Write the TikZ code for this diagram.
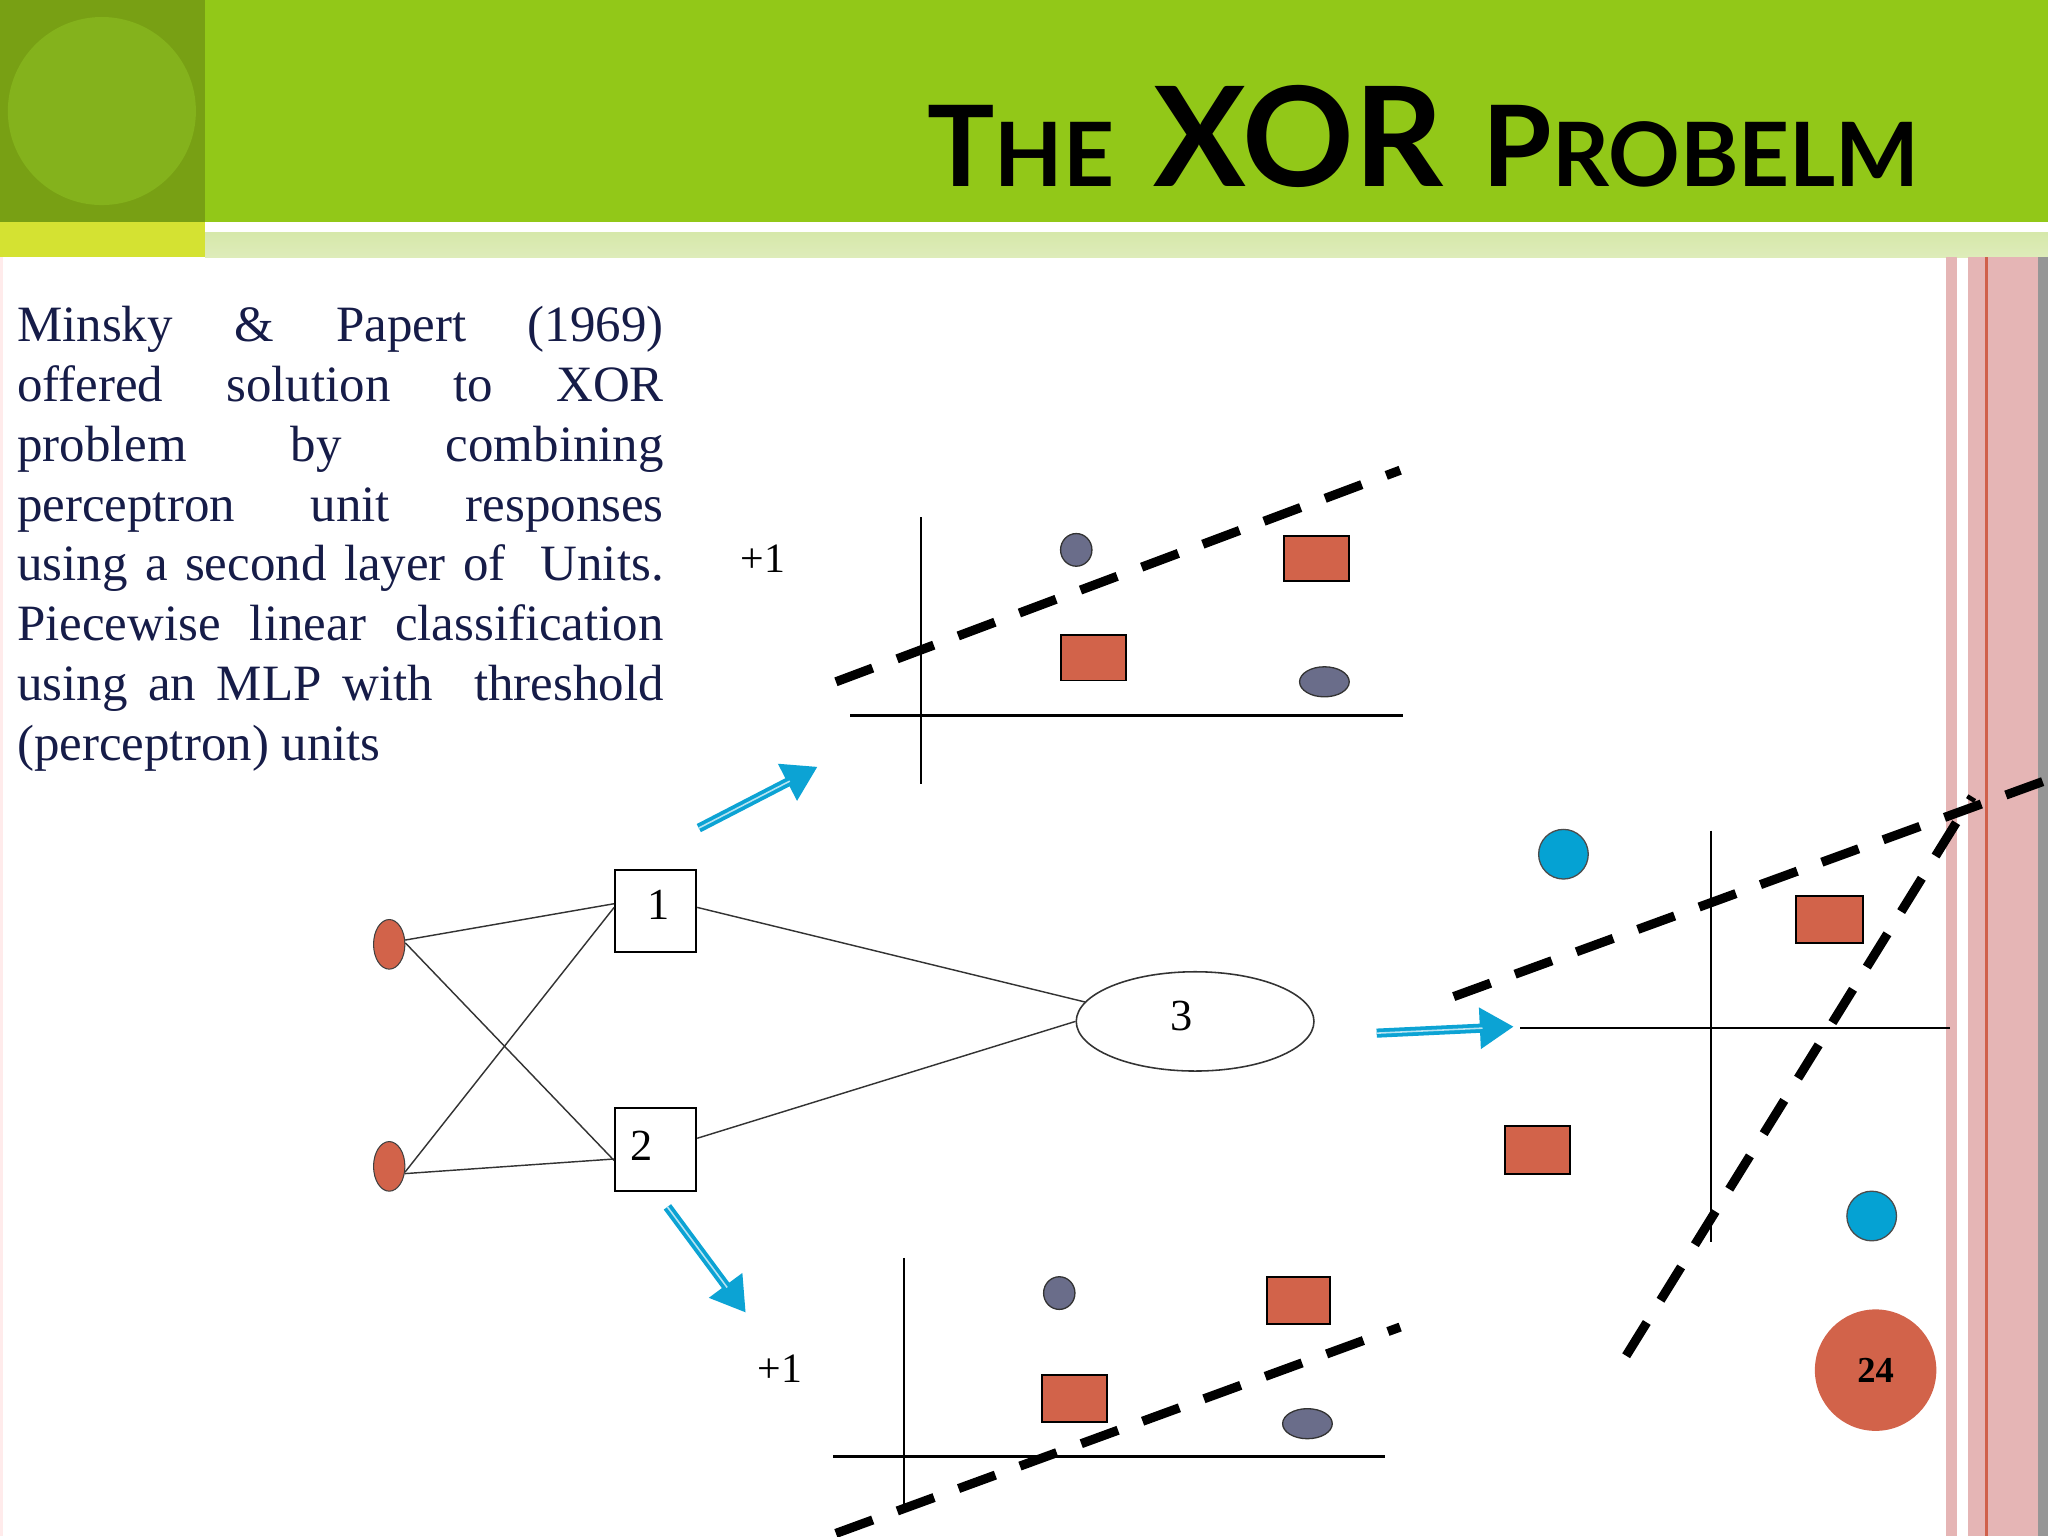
\documentclass[tikz,border=0pt]{standalone}
\usepackage{fontspec}
\setmainfont{Liberation Serif}
\newfontfamily\titlefont{Lato}
\usetikzlibrary{arrows.meta,shapes.geometric}
\definecolor{hdrgreen}{RGB}{146,200,24}
\definecolor{hdrdark}{RGB}{120,160,20}
\definecolor{hdrcirc}{RGB}{132,178,28}
\definecolor{hdryel}{RGB}{212,226,50}
\definecolor{hdrlight}{RGB}{214,232,170}
\definecolor{hdrlight2}{RGB}{222,236,186}
\definecolor{stripepink}{RGB}{229,181,181}
\definecolor{stripered}{RGB}{208,96,74}
\definecolor{stripegray}{RGB}{150,150,150}
\definecolor{txtnavy}{RGB}{22,28,72}
\definecolor{ptorange}{RGB}{210,99,74}
\definecolor{ptgray}{RGB}{106,109,138}
\definecolor{ptblue}{RGB}{5,162,211}
\definecolor{arrblue}{RGB}{12,163,212}
\tikzset{
  bodyline/.style={anchor=base west, inner sep=0pt, text=txtnavy, font=\fontsize{39}{45.8}\selectfont},
  inp/.style={ellipse, draw=black!75, line width=0.8pt, fill=ptorange, minimum width=24pt, minimum height=38pt, inner sep=0pt},
  hid/.style={rectangle, draw=black, line width=1.6pt, fill=white, minimum width=62pt, minimum height=63pt, inner sep=0pt},
  outn/.style={ellipse, draw=black!80, line width=1.2pt, minimum width=182pt, minimum height=76pt, inner sep=0pt},
  numlbl/.style={inner sep=0pt, font=\fontsize{34}{34}\selectfont},
  wire/.style={draw=black!80, line width=1.1pt},
  axis/.style={draw=black, line width=2pt},
  sep/.style={draw=black, line width=7pt, dash pattern=on 30pt off 20pt},
  gdot/.style={ellipse, draw=black!80, line width=1pt, fill=ptgray, inner sep=0pt},
  bdot/.style={circle, draw=black!70, line width=1pt, fill=ptblue, minimum size=38pt, inner sep=0pt},
  osq/.style={rectangle, draw=black, line width=1.5pt, fill=ptorange, inner sep=0pt},
  barrow/.style={draw=arrblue, line width=7pt, -{Triangle[length=26pt,width=30pt]}},
  bstripe/.style={draw=white!70!arrblue, line width=1.2pt},
}
\begin{document}
\begin{tikzpicture}[x=1pt,y=-1pt]
\useasboundingbox (0,0) rectangle (1568,1176);
\fill[white] (0,0) rectangle (1568,1176);
% header
\fill[hdrgreen] (0,0) rectangle (1568,170);
\fill[hdrdark] (0,0) rectangle (157,170);
\fill[hdrcirc] (78,85) circle (72);
\fill[hdryel] (0,170) rectangle (157,197);
\shade[top color=hdrlight, bottom color=hdrlight2] (157,178) rectangle (1568,197);
\node[anchor=base east, inner sep=0pt] (title) at (1470,143)
  {\titlefont\bfseries{\fontsize{86}{86}\selectfont T}{\fontsize{68}{68}\selectfont HE}\hspace{30pt}{\fontsize{106}{106}\selectfont XOR}\hspace{30pt}{\fontsize{86}{86}\selectfont P}{\fontsize{68}{68}\selectfont ROBELM}};
% right stripes
\fill[stripepink] (1490,197) rectangle (1498.5,1176);
\fill[stripepink] (1507,197) rectangle (1560,1176);
\fill[stripered] (1520,197) rectangle (1522,1176);
\fill[stripegray] (1560,197) rectangle (1568,1176);
\fill[red!8] (0,197) rectangle (2.5,1176);
% body text
\node[bodyline] (l1) at (13,261.6) {\makebox[495pt][s]{Minsky \& Papert (1969)}};
\node[bodyline] (l2) at (13,307.4) {\makebox[495pt][s]{offered solution to XOR}};
\node[bodyline] (l3) at (13,353.2) {\makebox[495pt][s]{problem by combining}};
\node[bodyline] (l4) at (13,399.0) {\makebox[495pt][s]{perceptron unit responses}};
\node[bodyline] (l5) at (13,444.8) {\makebox[495pt][s]{using a second layer of \ Units.}};
\node[bodyline] (l6) at (13,490.6) {\makebox[495pt][s]{Piecewise linear classification}};
\node[bodyline] (l7) at (13,536.4) {\makebox[495pt][s]{using an MLP with \ threshold}};
\node[bodyline] (l8) at (13,582.2) {(perceptron) units};
% network
\node[inp] (i1) at (298,723) {};
\node[inp] (i2) at (298,893) {};
\node[hid] (h1) at (502,697.5) {};
\node[hid] (h2) at (502,880) {};
\node[outn] (o3) at (915,782) {};
\node[numlbl] (t1) at (504,693) {1};
\node[numlbl] (t2) at (491,877) {2};
\node[numlbl] (t3) at (905,778) {3};
\draw[wire] (i1.15) -- (h1.170);
\draw[wire] (i1.5) -- (h2.195);
\draw[wire] (i2.-20) -- (h1.175);
\draw[wire] (i2.-25) -- (h2.193);
\draw[wire] (h1.5) -- (o3.170);
\draw[wire] (h2.15) -- (o3.180);
% blue arrows
\coordinate (a1s) at (535,634);
\coordinate (a1e) at (626,587);
\coordinate (a2s) at (511,924);
\coordinate (a2e) at (571,1005);
\coordinate (a3s) at (1054,791);
\coordinate (a3e) at (1159,786);
\draw[barrow] (a1s) -- (a1e);
\draw[bstripe, shorten >=24pt] (a1s) -- (a1e);
\draw[barrow] (a2s) -- (a2e);
\draw[bstripe, shorten >=24pt] (a2s) -- (a2e);
\draw[barrow] (a3s) -- (a3e);
\draw[bstripe, shorten >=24pt] (a3s) -- (a3e);
% top plot
\draw[axis] (705,396) -- (705,600);
\draw[axis] (651,548) -- (1074,548);
\node[gdot, minimum width=24pt, minimum height=25pt] (tp1) at (824,421) {};
\node[osq, minimum width=50pt, minimum height=35pt] (tp2) at (1008,427.5) {};
\node[osq, minimum width=50pt, minimum height=35pt] (tp3) at (837,503.5) {};
\node[gdot, minimum width=38pt, minimum height=23pt] (tp4) at (1014,522) {};
\node[inner sep=0pt, font=\fontsize{32}{32}\selectfont] (tpl) at (584,428) {+1};
\draw[sep] (640,522) -- (1072,360);
% bottom plot
\draw[axis] (692,963) -- (692,1152);
\draw[axis] (638,1115) -- (1060,1115);
\node[gdot, minimum width=24pt, minimum height=25pt] (bp1) at (811,990) {};
\node[osq, minimum width=48pt, minimum height=36pt] (bp2) at (994,996) {};
\node[osq, minimum width=50pt, minimum height=36pt] (bp3) at (822.5,1071) {};
\node[gdot, minimum width=38pt, minimum height=23pt] (bp4) at (1001,1090) {};
\node[inner sep=0pt, font=\fontsize{32}{32}\selectfont] (bpl) at (597,1048) {+1};
\draw[sep] (640,1174) -- (1072,1016);
% right plot
\draw[axis] (1310,636) -- (1310,951);
\draw[axis] (1164,787) -- (1493,787);
\node[bdot] (rp1) at (1197,654) {};
\node[bdot] (rp2) at (1433,931) {};
\node[osq, minimum width=51pt, minimum height=36pt] (rp3) at (1400.5,704) {};
\node[osq, minimum width=50pt, minimum height=37pt] (rp4) at (1177,880.5) {};
\draw[sep] (1113,763) -- (1565,598);
\draw[sep] (1245,1038) -- (1510,610);
% page number
\node[circle, fill=ptorange, minimum size=93pt, inner sep=0pt, font=\bfseries\fontsize{28}{28}\selectfont] (pg) at (1436,1049) {24};
\end{tikzpicture}
\end{document}
